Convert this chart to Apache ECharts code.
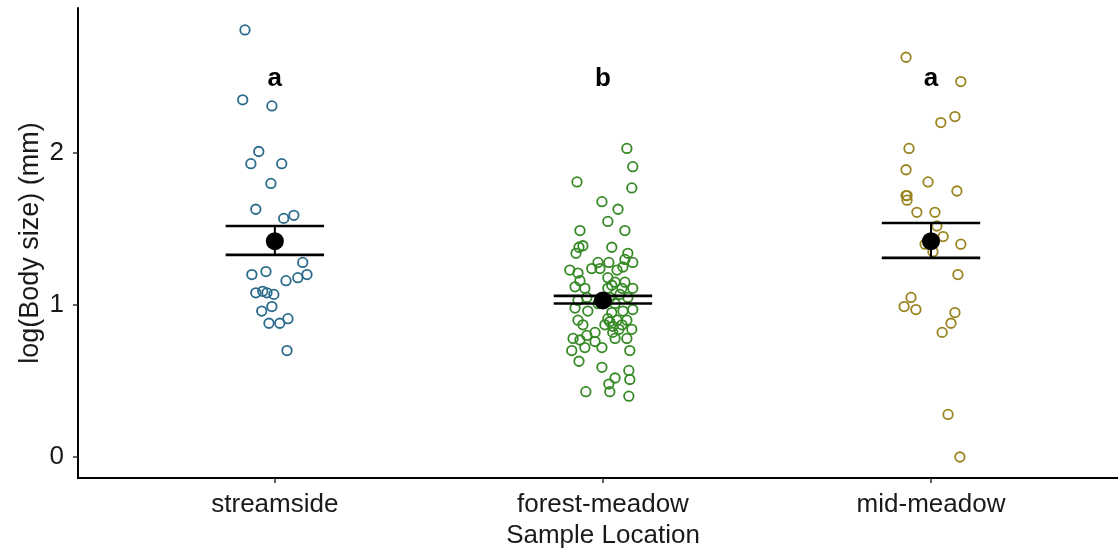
<!DOCTYPE html>
<html>
<head>
<meta charset="utf-8">
<script src="https://cdn.jsdelivr.net/npm/echarts@6/dist/echarts.min.js"></script>
<style>
  html, body { margin: 0; padding: 0; background: #fff; }
  #chart { width: 1118px; height: 554px; }
</style>
</head>
<body>
<div id="chart"></div>
<script>
// Sample locations along the x axis (positions 1, 2, 3)
const categories = ['streamside', 'forest-meadow', 'mid-meadow'];

// log body size per individual, with horizontal jitter (in category units)
const streamsideValues = [2.81, 2.35, 2.31, 2.01, 1.93, 1.93, 1.80, 1.63, 1.57, 1.59, 1.28, 1.20, 1.22,
  1.16, 1.18, 1.20, 1.08, 1.09, 1.08, 1.07, 0.99, 0.96, 0.88, 0.88, 0.91, 0.70];
const streamsideJitter = [-0.091, -0.098, -0.009, -0.049, -0.073, 0.021, -0.012, -0.058, 0.027, 0.058,
  0.085, -0.070, -0.027, 0.034, 0.070, 0.098, -0.058, -0.037, -0.024, -0.003, -0.009, -0.040, -0.018,
  0.015, 0.040, 0.037];

const forestValues = [2.03, 1.91, 1.81, 1.77, 1.68, 1.63, 1.55, 1.49, 1.49, 1.39, 1.38, 1.34, 1.38, 1.34,
  1.30, 1.28, 1.23, 1.21, 1.24, 1.28, 1.24, 1.28, 1.23, 1.25, 1.16, 1.12, 1.11, 1.18, 1.15, 1.15, 1.11,
  1.11, 1.11, 1.03, 1.05, 1.05, 1.07, 1.05, 0.98, 0.96, 0.95, 0.96, 0.97, 0.91, 0.90, 0.90, 0.90, 0.87,
  0.87, 0.86, 0.87, 0.78, 0.80, 0.82, 0.82, 0.78, 0.78, 0.84, 0.70, 0.72, 0.72, 0.70, 0.76, 0.77, 0.63,
  0.59, 0.57, 0.52, 0.51, 0.48, 0.43, 0.43, 0.40, 1.13, 0.89, 0.84, 1.01, 1.01];
const forestJitter = [0.073, 0.091, -0.079, 0.088, -0.003, 0.046, 0.015, -0.070, 0.067, -0.061, -0.073,
  -0.082, 0.027, 0.076, 0.067, 0.091, -0.101, -0.076, -0.034, -0.015, -0.009, 0.018, 0.043, 0.061, -0.070,
  -0.085, -0.055, 0.015, 0.037, 0.067, 0.091, 0.058, 0.015, -0.076, -0.049, 0.021, 0.052, 0.076, -0.085,
  -0.046, 0.027, 0.061, 0.091, 0.015, 0.043, 0.073, -0.076, -0.061, 0.006, 0.030, 0.058, -0.091, -0.049,
  -0.024, 0.030, 0.037, 0.073, 0.088, -0.095, -0.055, -0.003, 0.082, -0.024, -0.070, -0.073, -0.003,
  0.079, 0.037, 0.082, 0.018, -0.052, 0.021, 0.079, 0.027, 0.021, 0.049, -0.015, 0.037];

const midValues = [2.63, 2.47, 2.24, 2.20, 2.03, 1.89, 1.81, 1.75, 1.72, 1.72, 1.69, 1.61, 1.61, 1.52,
  1.45, 1.40, 1.40, 1.35, 1.20, 1.05, 0.99, 0.97, 0.95, 0.88, 0.82, 0.28, 0.00];
const midJitter = [-0.076, 0.091, 0.073, 0.030, -0.067, -0.076, -0.009, 0.079, -0.076, -0.073, -0.073,
  -0.043, 0.012, 0.018, 0.037, -0.018, 0.091, 0.006, 0.082, -0.061, -0.082, -0.046, 0.073, 0.061, 0.034,
  0.052, 0.088];

// Group mean and standard error bounds
const groupMeans = [1.42, 1.03, 1.42];
const seLower = [1.33, 1.01, 1.31];
const seUpper = [1.52, 1.06, 1.54];

// Significance letters above each group
const groupLetters = ['a', 'b', 'a'];
const letterLevel = 2.49;

const yTicks = [0, 1, 2];
const pointColors = ['#2a6a8c', '#368a26', '#9a8420'];

const FONT = '"Liberation Sans", Arial, Helvetica, sans-serif';

function jittered(values, jitter, pos) {
  return values.map((v, i) => [pos + jitter[i], v]);
}

const groups = [
  { values: streamsideValues, jitter: streamsideJitter },
  { values: forestValues, jitter: forestJitter },
  { values: midValues, jitter: midJitter }
];

const pointSeries = groups.map((g, i) => ({
  type: 'scatter',
  name: categories[i],
  data: jittered(g.values, g.jitter, i + 1),
  symbol: 'circle',
  symbolSize: 9.5,
  itemStyle: { color: 'rgba(255,255,255,0)', borderColor: pointColors[i], borderWidth: 1.8, opacity: 1 },
  z: 2
}));

const errorData = categories.map((c, i) => [i + 1, seLower[i], seUpper[i]]);

const chart = echarts.init(document.getElementById('chart'), null, { renderer: 'canvas' });

chart.setOption({
  animation: false,
  backgroundColor: '#fff',
  grid: { left: 78, top: 8, right: 0, bottom: 76, containLabel: false },
  xAxis: {
    type: 'value',
    min: 0.4,
    max: 3.57,
    name: 'Sample Location',
    nameLocation: 'middle',
    nameGap: 41,
    nameTextStyle: { fontFamily: FONT, fontSize: 26, color: '#1a1a1a', padding: [0, 0, 0, 10] },
    axisLine: { show: true, onZero: false, lineStyle: { color: '#000', width: 2 } },
    axisTick: { show: true, length: 5, customValues: [1, 2, 3], lineStyle: { color: '#333', width: 1.5 } },
    axisLabel: {
      customValues: [1, 2, 3],
      formatter: v => categories[Math.round(v) - 1] || '',
      fontFamily: FONT, fontSize: 26, color: '#1a1a1a', margin: 14
    },
    splitLine: { show: false }
  },
  yAxis: {
    type: 'value',
    min: -0.138,
    max: 2.954,
    name: 'log(Body size) (mm)',
    nameLocation: 'middle',
    nameGap: 34,
    nameMoveOverlap: false,
    nameRotate: 90,
    nameTextStyle: { fontFamily: FONT, fontSize: 27, color: '#1a1a1a' },
    axisLine: { show: true, onZero: false, lineStyle: { color: '#000', width: 2 } },
    axisTick: { show: true, length: 5, customValues: yTicks, lineStyle: { color: '#333', width: 1.5 } },
    axisLabel: {
      customValues: yTicks,
      fontFamily: FONT, fontSize: 26, color: '#1a1a1a', margin: 14
    },
    splitLine: { show: false }
  },
  series: [
    ...pointSeries,
    {
      type: 'custom',
      name: 'se',
      data: errorData,
      z: 3,
      renderItem(params, api) {
        const x = api.value(0);
        const lo = api.coord([x, api.value(1)]);
        const hi = api.coord([x, api.value(2)]);
        const left = api.coord([x - 0.15, 0])[0];
        const right = api.coord([x + 0.15, 0])[0];
        return {
          type: 'group',
          children: [
            { type: 'line', shape: { x1: hi[0], y1: hi[1], x2: lo[0], y2: lo[1] },
              style: { stroke: '#000', lineWidth: 2 } },
            { type: 'line', shape: { x1: left, y1: hi[1], x2: right, y2: hi[1] },
              style: { stroke: '#000', lineWidth: 2.6 } },
            { type: 'line', shape: { x1: left, y1: lo[1], x2: right, y2: lo[1] },
              style: { stroke: '#000', lineWidth: 2.6 } }
          ]
        };
      }
    },
    {
      type: 'scatter',
      name: 'mean',
      data: groupMeans.map((m, i) => [i + 1, m]),
      symbol: 'circle',
      symbolSize: 18,
      itemStyle: { color: '#000', opacity: 1 },
      z: 4
    },
    {
      type: 'scatter',
      name: 'letters',
      data: groupLetters.map((l, i) => ({ value: [i + 1, letterLevel], name: l })),
      symbolSize: 1,
      itemStyle: { color: 'rgba(0,0,0,0)', opacity: 1 },
      label: {
        show: true,
        position: 'inside',
        formatter: p => p.name,
        fontFamily: FONT, fontSize: 26, fontWeight: 'bold', color: '#000'
      },
      z: 5
    }
  ]
});
</script>
</body>
</html>
